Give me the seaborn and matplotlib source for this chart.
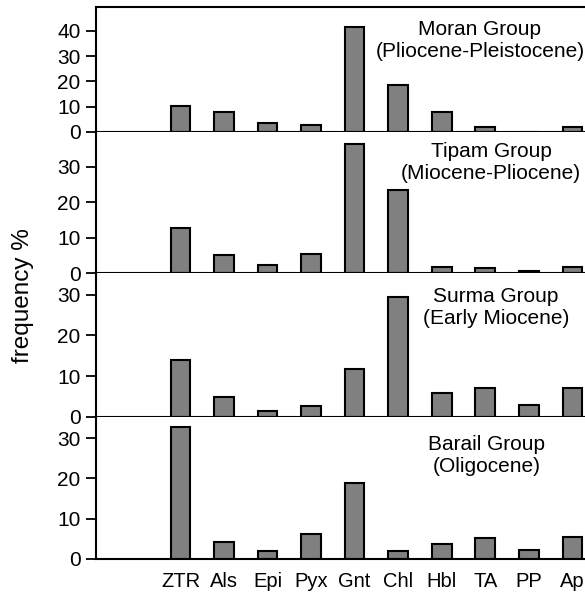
import matplotlib
matplotlib.use("Agg")
import matplotlib.pyplot as plt
import seaborn as sns
import numpy as np

# ---- data ----
minerals = ["ZTR", "Als", "Epi", "Pyx", "Gnt", "Chl", "Hbl", "TA", "PP", "Ap"]
groups = ["Moran Group", "Tipam Group", "Surma Group", "Barail Group"]
periods = ["(Pliocene-Pleistocene)", "(Miocene-Pliocene)", "(Early Miocene)", "(Oligocene)"]
moran = [10.2, 7.9, 3.3, 2.8, 41.7, 18.4, 7.7, 1.7, 0.0, 1.9]
tipam = [12.7, 5.2, 2.3, 5.4, 36.3, 23.4, 1.7, 1.5, 0.65, 1.9]
surma = [14.0, 4.9, 1.3, 2.6, 11.8, 29.4, 5.9, 7.1, 2.8, 7.1]
barail = [32.8, 4.2, 2.1, 6.2, 18.8, 2.0, 3.6, 5.2, 2.2, 5.5]
yticks_list = [[0, 10, 20, 30, 40], [0, 10, 20, 30], [0, 10, 20, 30], [0, 10, 20, 30]]
series = [moran, tipam, surma, barail]

sns.set_theme(style="ticks")
plt.rcParams["font.family"] = ["Liberation Sans", "DejaVu Sans"]
plt.rcParams["text.color"] = "black"
plt.rcParams["xtick.color"] = "black"
plt.rcParams["ytick.color"] = "black"
plt.rcParams["xtick.labelcolor"] = "black"
plt.rcParams["ytick.labelcolor"] = "black"
plt.rcParams["axes.labelcolor"] = "black"

W, H = 585, 593
fig = plt.figure(figsize=(W / 100, H / 100), dpi=100)
gs = fig.add_gridspec(4, 1, height_ratios=[124.7, 141.6, 143.4, 142.3], hspace=0,
                      left=96 / W, right=1.0, top=1 - 7 / H, bottom=1 - 559 / H)

ylims = [49.5, 39.9, 35.3, 35.3]
text_pos = [(480, 40.5), (491, 162.5), (496, 308), (487, 455.5)]

for i in range(4):
    ax = fig.add_subplot(gs[i])
    sns.barplot(x=minerals, y=series[i], order=minerals, color="#808080", saturation=1,
                edgecolor="black", linewidth=1.5, width=0.45, ax=ax)
    ax.set_xlim(-1.94, 9.29)
    ax.set_ylim(0, ylims[i])
    ax.set_yticks(yticks_list[i])
    ax.tick_params(axis="y", direction="out", length=7, width=1.3, labelsize=15, pad=4,
                   color="black", labelcolor="black")
    ax.set_ylabel("")
    ax.set_xlabel("")
    for s in ["left", "bottom", "top", "right"]:
        ax.spines[s].set_linewidth(1.5)
        ax.spines[s].set_color("black")
    ax.spines["right"].set_visible(False)
    if i != 0:
        ax.spines["top"].set_visible(False)
    if i < 3:
        ax.tick_params(axis="x", bottom=False, labelbottom=False, length=0)
    else:
        ax.tick_params(axis="x", bottom=False, length=0, labelsize=14.5, pad=9.5,
                       labelcolor="black")
    fig.text(text_pos[i][0] / W, 1 - text_pos[i][1] / H, groups[i] + "\n" + periods[i],
             ha="center", va="center", fontsize=15, linespacing=1.2, color="black")

fig.text(23 / W, 1 - 296 / H, "frequency %", rotation=90, ha="center", va="center",
         fontsize=17.5, color="black")

fig.savefig("out.png", dpi=100)
